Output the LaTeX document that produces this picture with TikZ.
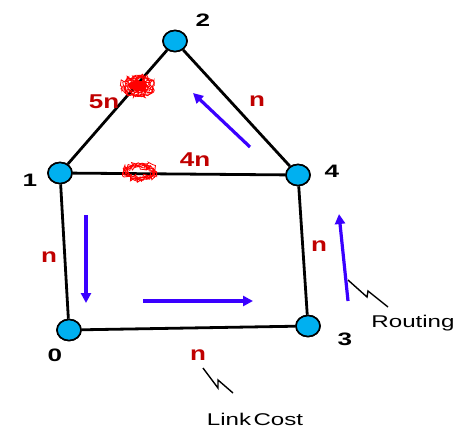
\documentclass[tikz,border=0pt]{standalone}
\usepackage{fontspec}
\setmainfont{Liberation Sans}
\usetikzlibrary{arrows.meta,decorations.pathmorphing,shapes.geometric}
\definecolor{nodecyan}{HTML}{00B0F0}
\definecolor{costred}{HTML}{C00000}
\definecolor{routeblue}{HTML}{3A00FF}
\begin{document}
\begin{tikzpicture}[x=1pt,y=-1pt,
  vertex/.style={ellipse,draw=black,line width=1.6pt,fill=nodecyan,minimum width=24pt,minimum height=21pt,inner sep=0pt},
  link/.style={line width=2.8pt,black},
  vlabel/.style={font=\fontsize{18}{18}\selectfont\bfseries,xscale=1.45,inner sep=0pt},
  costlabel/.style={font=\fontsize{20}{20}\selectfont\bfseries,text=costred,xscale=1.3,inner sep=0pt},
  route/.style={line width=3.2pt,routeblue,-{Triangle[length=10pt,width=10pt]}},
  note/.style={font=\fontsize{17}{17}\selectfont,xscale=1.42,inner sep=0pt},
  bolt/.style={line width=1.4pt,black,line join=miter},
  scrib/.style={red,line width=0.8pt,decorate,decoration={random steps,segment length=2pt,amplitude=2.4pt}}
]
\useasboundingbox (0,0) rectangle (465,429);
\pgfmathsetseed{7}
% nodes
\node[vertex] (n2) at (175,41) {};
\node[vertex] (n1) at (60,173) {};
\node[vertex] (n4) at (298,175) {};
\node[vertex] (n0) at (69,330) {};
\node[vertex] (n3) at (308,326) {};
% links
\draw[link] (n1) -- (n2);
\draw[link] (n2) -- (n4);
\draw[link] (n1) -- (n4);
\draw[link] (n1) -- (n0);
\draw[link] (n0) -- (n3);
\draw[link] (n3) -- (n4);
% redraw nodes on top
\node[vertex] at (n2) {};
\node[vertex] at (n1) {};
\node[vertex] at (n4) {};
\node[vertex] at (n0) {};
\node[vertex] at (n3) {};
% vertex labels
\node[vlabel] (l2) at (203,20) {2};
\node[vlabel] (l1) at (30,180) {1};
\node[vlabel] (l4) at (332,171) {4};
\node[vlabel] (l0) at (55,355) {0};
\node[vlabel] (l3) at (345,339) {3};
% cost labels
\node[costlabel] (c12) at (104,102) {5n};
\node[costlabel] (c24) at (257,101) {n};
\node[costlabel] (c14) at (195,160) {4n};
\node[costlabel] (c10) at (49,257) {n};
\node[costlabel] (c34) at (319,246) {n};
\node[costlabel] (c03) at (198,355) {n};
% scribbles (failures)
\fill[red,decorate,decoration={random steps,segment length=2pt,amplitude=1.5pt}] (138,86) ellipse (9pt and 6pt);
\foreach \r in {1,...,6}{
  \draw[scrib] (138,86) ellipse ({8+\r*1.3} and {5+\r*0.9});
}
\foreach \r in {1,...,6}{
  \draw[scrib] (140,172) ellipse ({10+\r*1.1} and {4+\r*0.7});
}
% routing arrows
\coordinate (a1s) at (86,215); \coordinate (a1e) at (86,303);
\coordinate (a2s) at (143,301); \coordinate (a2e) at (253,301);
\coordinate (a3s) at (250,147); \coordinate (a3e) at (193,93);
\coordinate (a4s) at (348,301); \coordinate (a4e) at (339,214);
\draw[route] (a1s) -- (a1e);
\draw[route] (a2s) -- (a2e);
\draw[route] (a3s) -- (a3e);
\draw[route] (a4s) -- (a4e);
% annotations
\coordinate (b1a) at (348,280); \coordinate (b1b) at (367,297);
\coordinate (b1c) at (368,291); \coordinate (b1d) at (388,307);
\draw[bolt] (b1a) -- (b1b) -- (b1c) -- (b1d);
\node[note] (routing) at (413,323) {Routing};
\coordinate (b2a) at (203,368); \coordinate (b2b) at (218,388);
\coordinate (b2c) at (218,380); \coordinate (b2d) at (233,393);
\draw[bolt] (b2a) -- (b2b) -- (b2c) -- (b2d);
\node[note] (linkcost) at (255,419) {Link\hspace{0.1em}Cost};
\end{tikzpicture}
\end{document}
